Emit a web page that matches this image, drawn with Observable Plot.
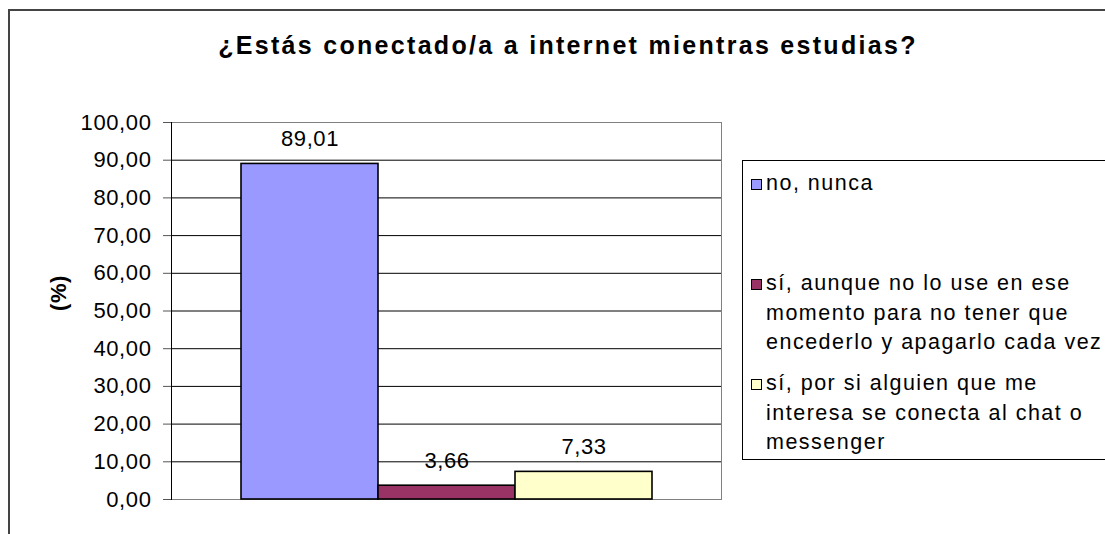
<!DOCTYPE html>
<html>
<head>
<meta charset="utf-8">
<script src="https://cdn.jsdelivr.net/npm/d3@7"></script>
<script src="https://cdn.jsdelivr.net/npm/@observablehq/plot@0.6"></script>
<style>
  html, body { margin: 0; padding: 0; background: #fff; }
  #wrap { position: relative; width: 1105px; height: 534px; overflow: hidden;
          font-family: "Liberation Sans", Arial, sans-serif; }
  #border { position: absolute; left: 8px; top: 9px; width: 1200px; height: 600px;
            border-left: 2px solid #444; border-top: 2px solid #444; box-sizing: border-box; }
  #title { position: absolute; left: 0; width: 1136px; top: 31px; text-align: center;
           font-weight: bold; font-size: 25px; letter-spacing: 2.3px; color: #000; }
  #chart { position: absolute; left: 0; top: 0; }
  #legend { position: absolute; left: 742px; top: 160px; width: 400px; height: 300px;
            border: 1px solid #000; box-sizing: border-box; padding-top: 8px; }
  .item { position: relative; height: 100px; }
  .sw { position: absolute; left: 8px; top: 10px; width: 9px; height: 9px; border: 1px solid #000; }
  .txt { position: absolute; left: 23px; top: 0; font-size: 21.5px; line-height: 29.5px;
         letter-spacing: 1.5px; white-space: nowrap; color: #000; }
</style>
</head>
<body>
<div id="wrap">
  <div id="border"></div>
  <div id="title"></div>
  <div id="chart"></div>
  <div id="legend"></div>
</div>
<script>
const title = "¿Estás conectado/a a internet mientras estudias?";
const legendLines = [
  ["no, nunca"],
  ["sí, aunque no lo use en ese", "momento para no tener que", "encederlo y apagarlo cada vez"],
  ["sí, por si alguien que me", "interesa se conecta al chat o", "messenger"]
];
const series = legendLines.map(l => l.join(" "));
const values = [89.01, 3.66, 7.33];
const colors = ["#9999FF", "#993366", "#FFFFCC"];
const yTicks = [0, 10, 20, 30, 40, 50, 60, 70, 80, 90, 100];
const yLabel = "(%)";

const fmt = v => v.toFixed(2).replace(".", ",");
const data = series.map((s, i) => ({series: s, value: values[i]}));

document.getElementById("title").textContent = title;

const chart = Plot.plot({
  width: 1105,
  height: 534,
  marginLeft: 171,
  marginRight: 384,
  marginTop: 122,
  marginBottom: 35,
  style: {fontFamily: "'Liberation Sans', Arial, sans-serif", fontSize: "22px", background: "transparent", color: "#000", letterSpacing: "0.6px"},
  x: {domain: series, paddingInner: 0, paddingOuter: 0.5, axis: null},
  y: {domain: [0, 100]},
  color: {domain: series, range: colors},
  marks: [
    Plot.gridY(yTicks, {stroke: "#000", strokeOpacity: 1, strokeWidth: 1}),
    Plot.frame({stroke: "#808080", strokeWidth: 1}),
    Plot.axisY({ticks: yTicks, tickFormat: fmt, tickSize: 8, tickPadding: 12, label: null, stroke: "#555", fill: "#000"}),
    Plot.frame({anchor: "left", stroke: "#000", strokeWidth: 1}),
    Plot.barY(data, {x: "series", y: "value", fill: "series", stroke: "#000", strokeWidth: 1.6}),
    Plot.text(data, {x: "series", y: "value", text: d => fmt(d.value), dy: -25, fill: "#000"}),
    Plot.text([yLabel], {frameAnchor: "left", dx: -113, rotate: -90, text: d => d, fontWeight: "bold", fill: "#000"})
  ]
});
document.getElementById("chart").appendChild(chart);

const legend = document.getElementById("legend");
legendLines.forEach((lines, i) => {
  const item = document.createElement("div");
  item.className = "item";
  const sw = document.createElement("div");
  sw.className = "sw";
  sw.style.background = colors[i];
  const txt = document.createElement("div");
  txt.className = "txt";
  txt.innerHTML = lines.map(l => l.replace(/&/g, "&amp;").replace(/</g, "&lt;")).join("<br>");
  item.appendChild(sw);
  item.appendChild(txt);
  legend.appendChild(item);
});
</script>
</body>
</html>
